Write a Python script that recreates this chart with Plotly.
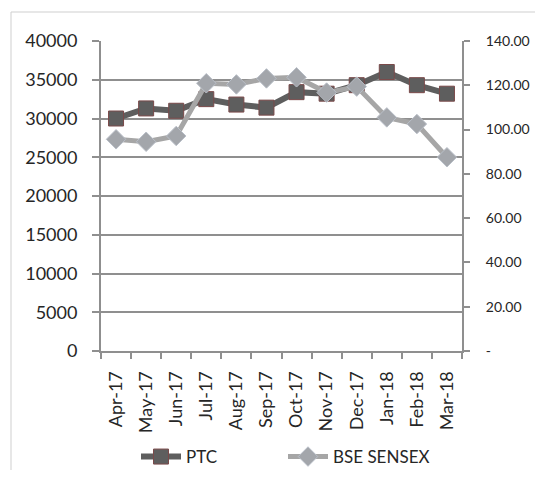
import plotly.graph_objects as go

months = ["Apr-17", "May-17", "Jun-17", "Jul-17", "Aug-17", "Sep-17",
          "Oct-17", "Nov-17", "Dec-17", "Jan-18", "Feb-18", "Mar-18"]
ptc = [30000, 31300, 31000, 32500, 31800, 31400, 33400, 33200, 34300, 36000, 34300, 33200]
sensex = [95.6, 94.5, 97.1, 120.9, 120.4, 123.1, 123.6, 116.7, 119.4, 105.5, 102.5, 87.5]

left_ticks = [0, 5000, 10000, 15000, 20000, 25000, 30000, 35000, 40000]
left_text = ["0", "5000", "10000", "15000", "20000", "25000", "30000", "35000", "40000"]
right_ticks = [0, 20, 40, 60, 80, 100, 120, 140]
right_text = ["-", "20.00", "40.00", "60.00", "80.00", "100.00", "120.00", "140.00"]

OFF = 8  # page body margin
W, H = 543 - 2 * OFF, 462
L, T = 101 - OFF, 41 - OFF
R = (OFF + W) - 462
B = (OFF + H) - 351
FONT = "Lato"
AX = "#8f8f8f"

fig = go.Figure()
fig.add_trace(go.Scatter(
    x=months, y=ptc, name="PTC", mode="lines+markers",
    line=dict(color="#5e5e5e", width=6),
    marker=dict(symbol="square", size=15, color="#5e5e5e",
                line=dict(color="#7a4a4a", width=1)),
    yaxis="y"))
fig.add_trace(go.Scatter(
    x=months, y=sensex, name="BSE SENSEX", mode="lines+markers",
    line=dict(color="#a6a6a6", width=5),
    marker=dict(symbol="diamond", size=15, color="#a3a6ab",
                line=dict(color="#b9bfc8", width=1)),
    yaxis="y2"))

pw, ph = W - L - R, H - T - B
def px_x(x):
    return (x - OFF - L) / pw
def px_y(y):
    return (H - B - (y - OFF)) / ph
def cx(x):
    return (x - OFF) / W
def cy(y):
    return 1 - (y - OFF) / H

fig.update_layout(
    width=W, height=H, autosize=False,
    margin=dict(l=L, r=R, t=T, b=B),
    paper_bgcolor="white", plot_bgcolor="white",
    font=dict(family=FONT, size=18, color="#262626"),
    showlegend=True,
    legend=dict(orientation="h", xref="container", yref="container",
                x=cx(136), xanchor="left", y=cy(457), yanchor="middle",
                font=dict(size=17), itemwidth=40, entrywidth=92, entrywidthmode="pixels",
                bgcolor="rgba(0,0,0,0)"),
    xaxis=dict(type="category", showline=True, linecolor=AX, linewidth=2,
               ticks="outside", tickson="boundaries", ticklen=6, tickcolor=AX, tickwidth=2,
               tickangle=-90, showgrid=False, ticklabelstandoff=11, range=[-0.5, 11.5],
               automargin=False),
    yaxis=dict(range=[0, 40000], tickvals=left_ticks, ticktext=left_text, showline=True,
               linecolor=AX, linewidth=2, ticks="outside", ticklen=7, tickcolor=AX,
               tickwidth=2, showgrid=True, gridcolor=AX, gridwidth=2, zeroline=False,
               ticklabelstandoff=11, automargin=False),
    yaxis2=dict(range=[0, 140], overlaying="y", side="right", tickvals=right_ticks,
                ticktext=right_text, showline=True, linecolor=AX, linewidth=2,
                ticks="outside", ticklen=6, tickcolor=AX, tickwidth=2,
                tickfont=dict(size=14), ticklabeloverflow="allow",
                showgrid=False, zeroline=False, ticklabelstandoff=13, automargin=False),
)

# outer frame lines (top and left)
fig.add_shape(type="line", xref="paper", yref="paper",
              x0=px_x(11), x1=px_x(542), y0=px_y(12), y1=px_y(12),
              line=dict(color="#cfcfcf", width=1))
fig.add_shape(type="line", xref="paper", yref="paper",
              x0=px_x(11), x1=px_x(11), y0=px_y(12), y1=px_y(OFF + H),
              line=dict(color="#cfcfcf", width=1))

fig.write_html("out.html")
